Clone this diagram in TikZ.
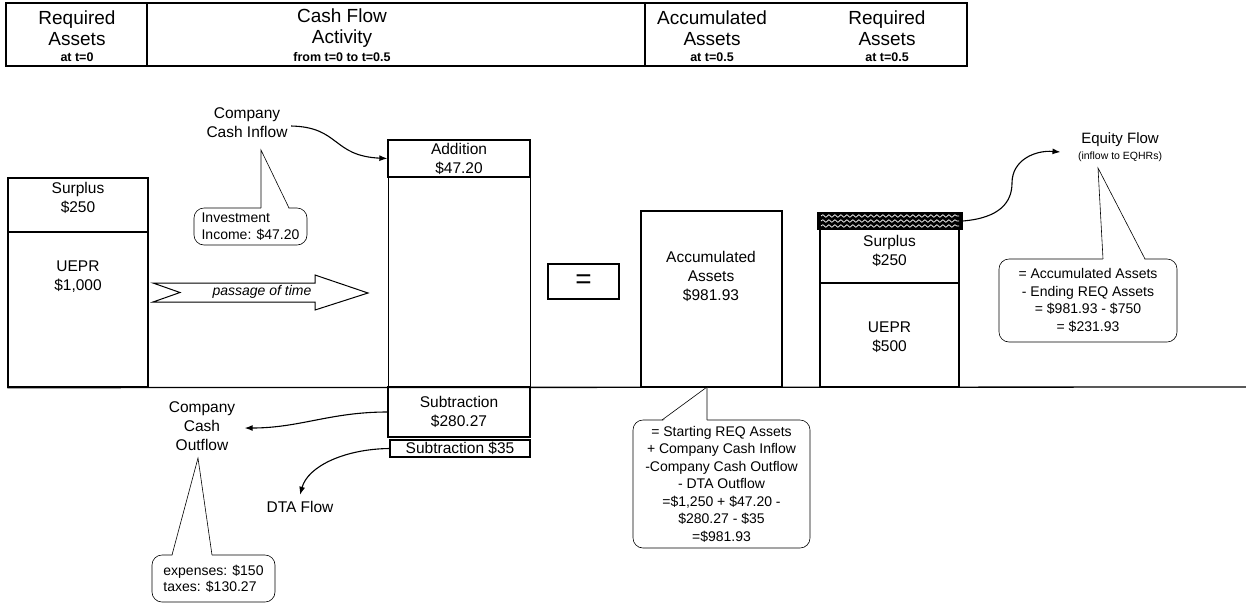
\documentclass[tikz,border=0pt]{standalone}
\usepackage{fontspec}
\setmainfont{Liberation Sans}
\usetikzlibrary{positioning,arrows.meta,decorations.pathmorphing}

\begin{document}
\begin{tikzpicture}[x=1pt,y=-1pt,>=Latex,
  box/.style={draw,line width=1.3pt,inner sep=0pt},
  hcell/.style={draw,line width=2.5pt,inner sep=0pt,minimum height=63pt},
  hdr/.style={align=center,font=\fontsize{19}{21}\selectfont},
  hsub/.style={font=\fontsize{12.5}{14}\selectfont\bfseries},
  lbl/.style={align=center,font=\fontsize{15.5}{19}\selectfont},
  note/.style={draw,line width=0.6pt,rounded corners=10pt,inner sep=0pt,font=\fontsize{14}{17.5}\selectfont},
  leg/.style={line width=0.6pt},
  flow/.style={->,line width=1.1pt,>={Latex[length=8pt,width=6pt]}}]
\useasboundingbox (0,0) rectangle (1246,603);

% header
\node[hcell,minimum width=141pt] (hd1) at (76.5,34.5) {};
\node[hcell,minimum width=498pt] (hd2) at (396,34.5) {};
\node[hcell,minimum width=322pt] (hd3) at (806,34.5) {};
\node[hdr] (hReq0) at (77,28) {Required\\Assets};
\node[hsub] (hReq0t) at (77,57) {at t=0};
\node[hdr] (hCash) at (342,28) {Cash Flow\\Activity};
\node[hsub] (hCasht) at (342,57) {from t=0 to t=0.5};
\node[hdr] (hAcc) at (712,28) {Accumulated\\Assets};
\node[hsub] (hAcct) at (712,57) {at t=0.5};
\node[hdr] (hReq1) at (887,28) {Required\\Assets};
\node[hsub] (hReq1t) at (887,57) {at t=0.5};

% required assets at t=0
\node[box,minimum width=140pt,minimum height=54pt] (surL) at (78,205) {};
\node[box,minimum width=140pt,minimum height=155pt] (uepL) at (78,309.5) {};
\node[lbl] (surLtxt) at (78,197.5) {Surplus\\\$250};
\node[lbl] (uepLtxt) at (78,277) {UEPR\\\$1,000};
\draw[line width=1.3pt] (uepL.south west) -- (1246,387);

% passage of time
\draw[line width=1pt] (153,283) -- (315,283) -- (315,275) -- (368,293) -- (315,310)
  -- (315,302) -- (153,302) -- (180,292.5) -- cycle;
\node[font=\fontsize{14}{16}\selectfont\itshape] (time) at (262,292) {passage of time};

% cash flow activity
\node[box,lbl,minimum width=142pt,minimum height=37pt] (add) at (459,158.5) {Addition\\\$47.20};
\node[draw,line width=0.6pt,minimum width=142pt,minimum height=210pt] (mid) at (459,282) {};
\node[box,lbl,minimum width=142pt,minimum height=50pt] (sub1) at (459,412) {Subtraction\\\$280.27};
\node[box,lbl,minimum width=140pt,minimum height=17pt] (sub2) at (460,448.5) {Subtraction \$35};
\node[box,minimum width=71pt,minimum height=35pt,font=\fontsize{28}{30}\selectfont] (eq) at (583.5,281.5) {=};

% accumulated assets
\node[box,minimum width=141pt,minimum height=176pt] (acc) at (711.5,299) {};
\node[lbl] (acctxt) at (711,276.5) {Accumulated\\Assets\\\$981.93};

% required assets at t=0.5
\node[box,fill=black,minimum width=144pt,minimum height=16pt] (hatch) at (890,221) {};
\foreach \y in {216,221,226}
  \draw[white,line width=0.7pt,decorate,decoration={snake,segment length=6pt,amplitude=1.3pt}]
    (821,\y) -- (959,\y);
\node[box,minimum width=139pt,minimum height=54pt] (surR) at (889.5,256) {};
\node[box,minimum width=139pt,minimum height=104pt] (uepR) at (889.5,335) {};
\node[lbl] (surRtxt) at (889.5,251) {Surplus\\\$250};
\node[lbl] (uepRtxt) at (889.5,337.5) {UEPR\\\$500};

% flows
\node[lbl] (inflow) at (247,123) {Company\\Cash Inflow};
\draw[flow] ([yshift=-3pt]inflow.east) .. controls (340,127) and (332,156) .. (add.west);
\node[lbl] (outflow) at (202,426) {Company\\Cash\\Outflow};
\draw[flow] (sub1.west) .. controls (330,412) and (300,428) .. ([xshift=6pt,yshift=-2pt]outflow.east);
\node[lbl] (dta) at (300,507) {DTA Flow};
\draw[flow] (sub2.west) .. controls (345,449) and (308,466) .. ([yshift=3pt]dta.north);
\node[lbl,font=\fontsize{15}{16}\selectfont] (equity) at (1120,147)
  {Equity Flow\\{\fontsize{10.5}{12}\selectfont(inflow to EQHRs)}};
\draw[flow] (hatch.east) .. controls (1000,218) and (1012,202) .. (1012,183)
  .. controls (1012,160) and (1035,150) .. ([xshift=-14pt,yshift=-5pt]equity.west);

% callouts
\node[note,align=left,minimum width=113pt,minimum height=37pt] (inv) at (250.5,226.5)
  {Investment\\Income: \$47.20};
\coordinate (invTip) at (261,150);
\fill[white] (261,209.5) -- (invTip) -- (289,209.5) -- cycle;
\draw[leg] (261,208) -- (invTip) -- (289,208);

\node[note,align=left,font=\fontsize{14}{16}\selectfont,minimum width=123pt,minimum height=47pt]
  (exp) at (213.5,578.5) {expenses: \$150\\taxes: \$130.27};
\coordinate (expTip) at (198,458);
\fill[white] (172,556.5) -- (expTip) -- (212,556.5) -- cycle;
\draw[leg] (172,555) -- (expTip) -- (212,555);

\node[note,align=center,minimum width=177pt,minimum height=128pt] (accNote) at (721.5,484)
  {= Starting REQ Assets\\+ Company Cash Inflow\\-Company Cash Outflow\\- DTA Outflow\\
   =\$1,250 + \$47.20 -\\\$280.27 - \$35\\=\$981.93};
\coordinate (accTip) at (707,387);
\fill[white] (662,421.5) -- (accTip) -- (707,421.5) -- cycle;
\draw[leg] (662,420) -- (accTip) -- (707,420);

\node[note,align=center,minimum width=178pt,minimum height=83pt] (eqNote) at (1088,300.5)
  {= Accumulated Assets\\- Ending REQ Assets\\= \$981.93 - \$750\\= \$231.93};
\coordinate (eqTip) at (1098,168);
\fill[white] (1103,260.5) -- (eqTip) -- (1145,260.5) -- cycle;
\draw[leg] (1103,259) -- (eqTip) -- (1145,259);
\end{tikzpicture}
\end{document}
